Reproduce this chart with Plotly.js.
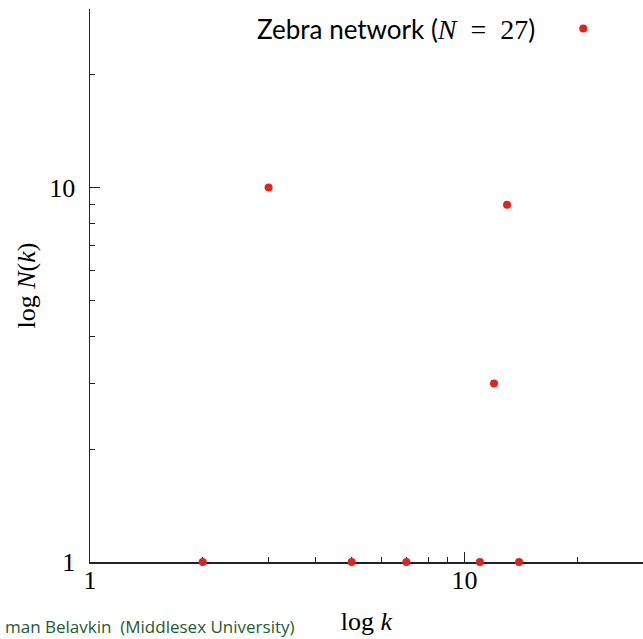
<!DOCTYPE html>
<html>
<head>
<meta charset="utf-8">
<script src="https://cdn.plot.ly/plotly-3.0.1.min.js"></script>
<style>
  html, body { margin: 0; padding: 0; background: #fff; }
  #chart { width: 643px; height: 639px; }
</style>
</head>
<body>
<div id="chart"></div>
<script>
// Degree distribution of the zebra network: degree k and number of nodes N(k)
const degrees = [2, 3, 5, 7, 11, 12, 13, 14];
const nodeCounts = [1, 10, 1, 1, 1, 3, 9, 1];

const majorTicks = [1, 10];
const majorTickText = ['1', '10'];
const minorTicks = [2, 3, 4, 5, 6, 7, 8, 9, 20, 30];

const totalNodes = nodeCounts.reduce((a, b) => a + b, 0);

const serif = 'Liberation Serif, Times New Roman, serif';
const sans = 'Lato, Noto Sans, sans-serif';

const trace = {
  x: degrees,
  y: nodeCounts,
  type: 'scatter',
  mode: 'markers',
  name: '',
  cliponaxis: false,
  marker: { color: '#e3231b', size: 8, line: { width: 0 } },
  showlegend: true
};

function axisStyle(titleText, standoff, labelStandoff) {
  return {
    type: 'log',
    range: [0, Math.log10(30)],
    layer: 'below traces',
    showline: true,
    linecolor: '#222',
    linewidth: 1.5,
    mirror: false,
    showgrid: false,
    zeroline: false,
    ticks: 'inside',
    ticklen: 10,
    tickwidth: 1,
    tickcolor: '#222',
    tickmode: 'array',
    tickvals: majorTicks,
    ticktext: majorTickText,
    ticklabelstandoff: labelStandoff,
    tickfont: { family: serif, size: 26, color: '#000' },
    minor: { ticks: 'inside', ticklen: 5, tickwidth: 1, tickcolor: '#222', tickmode: 'array', tickvals: minorTicks, showgrid: false },
    title: { text: titleText, font: { family: serif, size: 26, color: '#000' }, standoff: standoff }
  };
}

const layout = {
  width: 643,
  height: 639,
  margin: { l: 90, r: 0, t: 9, b: 77, pad: 0 },
  paper_bgcolor: '#fff',
  plot_bgcolor: '#fff',
  xaxis: axisStyle('log <i>k</i>', 18, -6),
  yaxis: axisStyle('log <i>N</i>(<i>k</i>)', 6, 8),
  showlegend: true,
  legend: {
    x: 0.9385, xanchor: 'right',
    y: 1.007, yanchor: 'top',
    bgcolor: 'rgba(0,0,0,0)',
    borderwidth: 0,
    title: {
      text: 'Zebra network (<span style="font-family:Liberation Serif;font-size:28px"><i>N</i>&nbsp;&nbsp;=&nbsp;&nbsp;' + totalNodes + '</span>)&nbsp;&nbsp;&nbsp;',
      side: 'left',
      font: { family: sans, size: 26, color: '#000' }
    },
    font: { family: sans, size: 26, color: '#000' }
  },
  annotations: [{
    text: 'man Belavkin&nbsp;&nbsp;(Middlesex University)',
    xref: 'paper', yref: 'paper',
    x: 0, y: 0,
    xshift: -87, yshift: -64,
    xanchor: 'left', yanchor: 'middle',
    showarrow: false,
    font: { family: 'Open Sans, sans-serif', size: 17, color: '#1e5a32' }
  }]
};

Plotly.newPlot('chart', [trace], layout, { staticPlot: true, displayModeBar: false });
</script>
</body>
</html>
